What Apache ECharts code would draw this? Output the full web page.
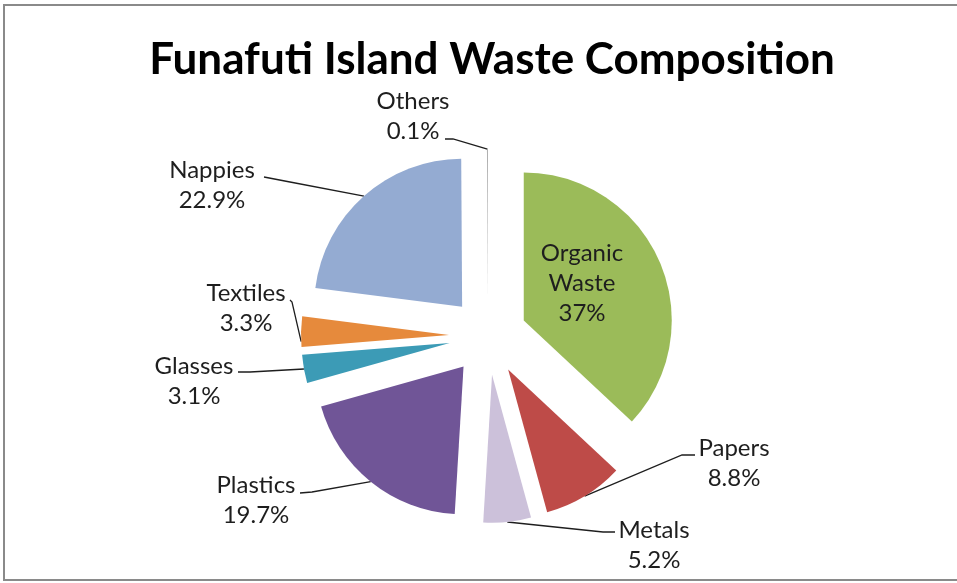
<!DOCTYPE html>
<html>
<head>
<meta charset="utf-8">
<script src="https://cdn.jsdelivr.net/npm/echarts@6/dist/echarts.min.js"></script>
<style>
  html, body { margin: 0; padding: 0; background: #ffffff; }
  #chart { width: 957px; height: 583px; }
</style>
</head>
<body>
<div id="chart"></div>
<script>
// Waste categories and their share of the total (percent)
const categories = ['Organic Waste', 'Papers', 'Metals', 'Plastics', 'Glasses', 'Textiles', 'Nappies', 'Others'];
const shares = [37, 8.8, 5.2, 19.7, 3.1, 3.3, 22.9, 0.1];
const sliceColors = ['#9BBB59', '#BE4B48', '#CCC1DA', '#705597', '#3C9BB6', '#E68A3C', '#94ABD2', '#A6A6A6'];

// Pie geometry (pixels)
const CENTER = [488, 336];
const RADIUS = 148;
const EXPLODE = 39;

// Where each label sits, and how its leader line bends toward it.
// anchor = position along the slice arc where the leader line starts (0..1)
const labelSpots = [
  { x: 582, y: 283, inside: true },
  { x: 734, y: 463, bend: [682, 455], end: [695, 455], anchor: 0.5 },
  { x: 654, y: 545, bend: [603, 532], end: [615, 532], anchor: 0.5 },
  { x: 256, y: 500, bend: [312, 492], end: [300, 493], anchor: 0.5 },
  { x: 194, y: 381, bend: [250, 372], end: [238, 372], anchor: 0.5 },
  { x: 246, y: 308, bend: [292, 302], end: [290, 300], anchor: 0.17 },
  { x: 212, y: 185, bend: [290, 182], end: [264, 177], anchor: 0.5 },
  { x: 413, y: 116, bend: [453, 139], end: [445, 139], anchor: 0.5 }
];

const total = shares.reduce((a, b) => a + b, 0);
const startFrac = [];
shares.reduce((acc, v, i) => { startFrac[i] = acc / total; return acc + v; }, 0);

function dir(deg) {
  const r = deg * Math.PI / 180;
  return [Math.sin(r), -Math.cos(r)];
}

// point on the outer arc of an exploded slice
function arcPoint(i, frac) {
  const a0 = startFrac[i] * 360;
  const span = shares[i] / total * 360;
  const mid = dir(a0 + span / 2);
  const at = dir(a0 + span * frac);
  return [
    CENTER[0] + EXPLODE * mid[0] + RADIUS * at[0],
    CENTER[1] + EXPLODE * mid[1] + RADIUS * at[1]
  ];
}

const labelFont = { fontFamily: 'Lato', fontSize: 24, lineHeight: 30, color: '#1e1e1e' };

// exploded slices
const sliceData = categories.map((name, i) => ({
  name: name,
  value: shares[i],
  selected: true,
  itemStyle: { color: sliceColors[i] }
}));

// same values again, unfilled, carrying the category labels and leader lines
const labelData = categories.map((name, i) => ({
  name: name,
  value: shares[i],
  itemStyle: { color: 'rgba(0,0,0,0)' },
  label: { position: labelSpots[i].inside ? 'inside' : 'outside' },
  labelLine: { show: !labelSpots[i].inside }
}));

const chart = echarts.init(document.getElementById('chart'), null, { renderer: 'canvas' });

chart.setOption({
  backgroundColor: '#ffffff',
  animation: false,
  title: {
    text: 'Funafuti Island Waste Composition',
    left: 487,
    top: 33,
    textAlign: 'center',
    textStyle: { fontFamily: 'Lato', fontWeight: 'bold', fontSize: 44, color: '#000000' }
  },
  graphic: [{
    type: 'rect',
    shape: { x: 4, y: 5, width: 1000, height: 575 },
    style: { fill: 'none', stroke: '#8a8a8a', lineWidth: 2 },
    silent: true
  }],
  series: [
    {
      type: 'pie',
      center: CENTER,
      radius: RADIUS,
      startAngle: 90,
      clockwise: true,
      silent: true,
      selectedMode: 'multiple',
      selectedOffset: EXPLODE,
      emphasis: { disabled: true },
      itemStyle: { borderWidth: 0 },
      label: { show: false },
      labelLine: { show: false },
      data: sliceData
    },
    {
      type: 'pie',
      center: CENTER,
      radius: RADIUS,
      startAngle: 90,
      clockwise: true,
      silent: true,
      avoidLabelOverlap: false,
      emphasis: { disabled: true },
      itemStyle: { borderWidth: 0 },
      label: Object.assign({
        align: 'center',
        formatter: (p) => labelSpots[p.dataIndex].inside
          ? p.name.replace(' ', '\n') + '\n' + p.value + '%'
          : p.name + '\n' + p.value + '%'
      }, labelFont),
      labelLine: { lineStyle: { color: '#1e1e1e', width: 1.3 } },
      labelLayout: (params) => {
        const s = labelSpots[params.dataIndex];
        const out = { x: s.x, y: s.y, align: 'center', verticalAlign: 'middle' };
        if (!s.inside) {
          out.labelLinePoints = [arcPoint(params.dataIndex, s.anchor), s.bend, s.end];
        }
        return out;
      },
      data: labelData
    }
  ]
});
</script>
</body>
</html>
